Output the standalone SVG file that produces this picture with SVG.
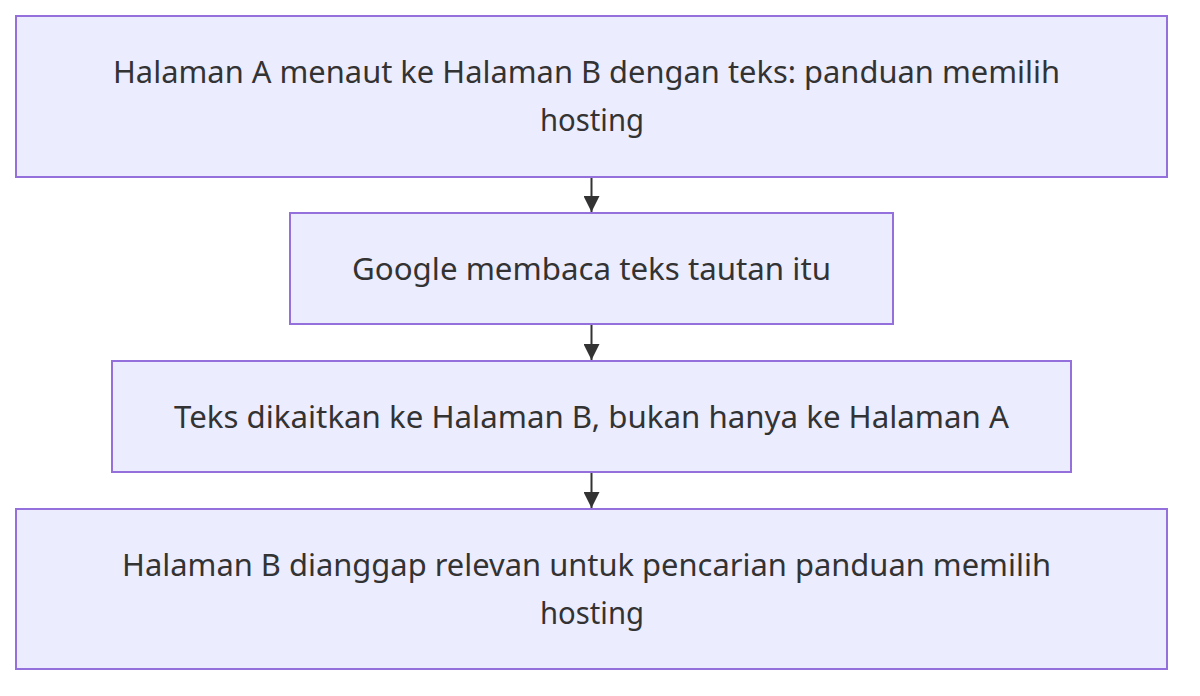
<svg xmlns="http://www.w3.org/2000/svg" width="1200" height="696" viewBox="0 0 1200 696">
<style>
.node rect{fill:#ECECFF;stroke:#9370DB;stroke-width:2}
.node text{font-family:"Noto Sans","Open Sans","DejaVu Sans",sans-serif;font-size:30px;fill:#333;text-anchor:middle}
.edge{stroke:#333;stroke-width:2;fill:none}
</style>
<defs>
<marker id="arrow" viewBox="0 0 10 10" refX="10" refY="5" markerWidth="8" markerHeight="8" markerUnits="strokeWidth" orient="auto">
<path d="M0,0 L10,5 L0,10 z" fill="#333"/>
</marker>
</defs>
<rect width="1200" height="696" fill="#fff"/>
<g id="edges">
<path class="edge" d="M591.5,177 L591.5,212" marker-end="url(#arrow)"/>
<path class="edge" d="M591.5,324 L591.5,360" marker-end="url(#arrow)"/>
<path class="edge" d="M591.5,472 L591.5,508" marker-end="url(#arrow)"/>
</g>
<g id="n1" class="node">
<rect x="16" y="16" width="1151" height="161"/>
<text x="586.5" y="83" textLength="947" lengthAdjust="spacingAndGlyphs">Halaman A menaut ke Halaman B dengan teks: panduan memilih</text>
<text x="592" y="131" textLength="104" lengthAdjust="spacingAndGlyphs">hosting</text>
</g>
<g id="n2" class="node">
<rect x="290" y="213" width="603" height="111"/>
<text x="591.5" y="280" textLength="479" lengthAdjust="spacingAndGlyphs">Google membaca teks tautan itu</text>
</g>
<g id="n3" class="node">
<rect x="112" y="361" width="959" height="111"/>
<text x="591.5" y="428" textLength="835" lengthAdjust="spacingAndGlyphs">Teks dikaitkan ke Halaman B, bukan hanya ke Halaman A</text>
</g>
<g id="n4" class="node">
<rect x="16" y="509" width="1151" height="160"/>
<text x="586.5" y="576" textLength="929" lengthAdjust="spacingAndGlyphs">Halaman B dianggap relevan untuk pencarian panduan memilih</text>
<text x="592" y="624" textLength="104" lengthAdjust="spacingAndGlyphs">hosting</text>
</g>
</svg>
